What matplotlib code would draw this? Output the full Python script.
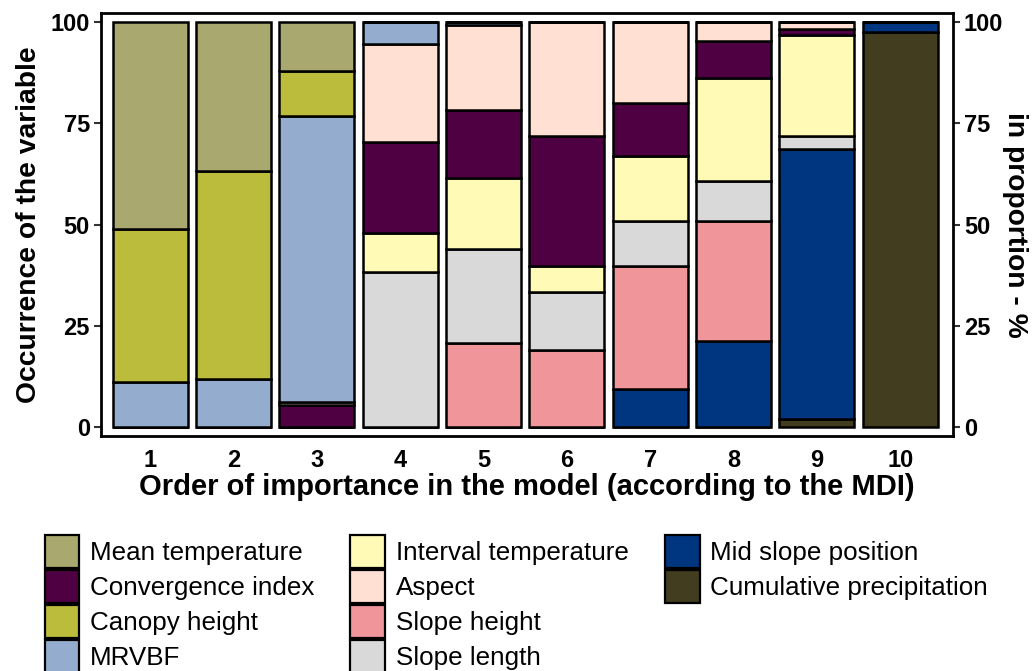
import matplotlib.pyplot as plt
import numpy as np
from matplotlib.patches import Patch

plt.rcParams['font.family'] = ['Liberation Sans', 'DejaVu Sans']

# Rank positions (order of importance)
ranks = [1, 2, 3, 4, 5, 6, 7, 8, 9, 10]

# Share of each variable (%) at each rank
cumulative_precipitation = [0, 0, 0, 0, 0, 0, 0, 0, 2.2, 97.5]
mid_slope_position = [0, 0, 0, 0, 0, 0, 9.4, 21.4, 66.3, 2.5]
slope_height = [0, 0, 0, 0, 20.7, 19.1, 30.4, 29.5, 0, 0]
slope_length = [0, 0, 0, 38.4, 23.2, 14.3, 11.1, 9.7, 3.3, 0]
interval_temperature = [0, 0, 0, 9.6, 17.5, 6.4, 16.1, 25.5, 24.8, 0]
convergence_index = [0, 0, 5.5, 22.4, 16.9, 32.1, 12.9, 9.0, 1.6, 0]
aspect = [0, 0, 0.8, 24.0, 20.9, 28.1, 20.1, 4.9, 1.8, 0]
mrvbf = [11.2, 11.9, 70.4, 5.6, 0.8, 0, 0, 0, 0, 0]
canopy_height = [37.6, 51.2, 11.2, 0, 0, 0, 0, 0, 0, 0]
mean_temperature = [51.2, 36.9, 12.1, 0, 0, 0, 0, 0, 0, 0]

# bottom-to-top stacking order
stack = [
    ('Cumulative precipitation', cumulative_precipitation, '#423d1f'),
    ('Mid slope position', mid_slope_position, '#003680'),
    ('Slope height', slope_height, '#f0959a'),
    ('Slope length', slope_length, '#d9d9d9'),
    ('Interval temperature', interval_temperature, '#fffab5'),
    ('Convergence index', convergence_index, '#4f0042'),
    ('Aspect', aspect, '#ffe0d2'),
    ('MRVBF', mrvbf, '#94adcf'),
    ('Canopy height', canopy_height, '#bcbc3c'),
    ('Mean temperature', mean_temperature, '#a9a86f'),
]

legend_order = ['Mean temperature', 'Convergence index', 'Canopy height', 'MRVBF',
                'Interval temperature', 'Aspect', 'Slope height', 'Slope length',
                'Mid slope position', 'Cumulative precipitation']

fig = plt.figure(figsize=(10.35, 6.71), dpi=100)
ax = fig.add_axes([0.0976, 0.3502, 0.8229, 0.6304])

bottom = np.zeros(len(ranks))
colors = {}
for name, vals, col in stack:
    vals = np.array(vals, dtype=float)
    ax.bar(ranks, vals, bottom=bottom, width=0.9, color=col,
           edgecolor='black', linewidth=1.8)
    bottom += vals
    colors[name] = col

ax.set_xlim(0.41, 10.63)
ax.set_ylim(-2.1, 102.1)
ax.set_xticks(ranks)
ax.set_yticks([0, 25, 50, 75, 100])
ax.tick_params(axis='x', length=0, pad=9, labelsize=17)
ax.tick_params(axis='y', length=5, width=1.5, color='#333333', labelsize=17,
               right=True, labelright=True, pad=3)
for lab in ax.get_xticklabels() + ax.get_yticklabels():
    lab.set_fontweight('bold')
for sp in ax.spines.values():
    sp.set_linewidth(2)

ax.set_ylabel('Occurrence of the variable', fontsize=20.3, fontweight='bold', labelpad=6)
ax.set_xlabel('Order of importance in the model (according to the MDI)',
              fontsize=21, fontweight='bold', labelpad=1)
fig.text(0.981, 0.665, 'in proportion - %', rotation=-90, fontsize=20.3,
         fontweight='bold', ha='center', va='center')

handles = [Patch(facecolor=colors[n], edgecolor='black', linewidth=1.6) for n in legend_order]
labels = list(legend_order)
# pad the third column so the layout is 4/4/2
handles += [Patch(visible=False), Patch(visible=False)]
labels += ['', '']
fig.legend(handles, labels, ncol=3, loc='upper left',
           bbox_to_anchor=(0.043, 1 - 535 / 671), frameon=False, fontsize=18.7,
           handlelength=1.34, handleheight=1.6, handletextpad=0.4,
           labelspacing=0.06, columnspacing=1.4, borderaxespad=0, borderpad=0)

fig.savefig('out.png', dpi=100)
